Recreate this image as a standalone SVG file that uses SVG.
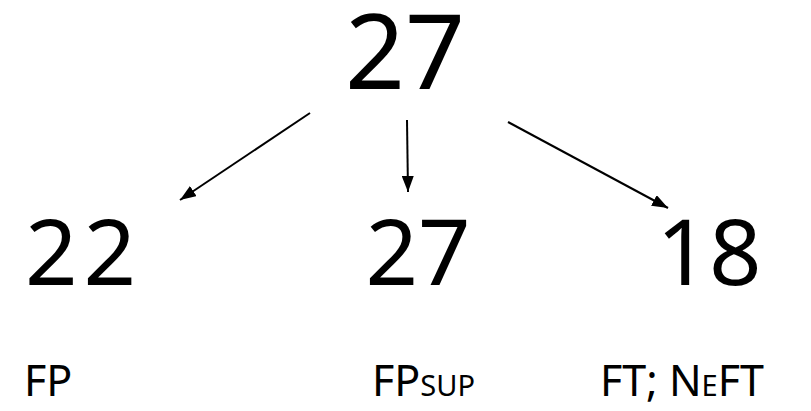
<svg xmlns="http://www.w3.org/2000/svg" width="811" height="411" viewBox="0 0 811 411">
<style>
text{font-family:"Noto Sans","Open Sans",sans-serif;fill:#000}
.big{font-size:105px}
.mid{font-size:92px}
.lab{font-size:43px}
.sc{font-size:29px}
.edge{stroke:#000;stroke-width:2;fill:none;marker-end:url(#ah)}
</style>
<defs>
<marker id="ah" viewBox="0 0 10 10" refX="10" refY="5" markerWidth="16" markerHeight="12" markerUnits="userSpaceOnUse" orient="auto" preserveAspectRatio="none">
<path d="M0,0 L10,5 L0,10 z" fill="#000"/>
</marker>
</defs>
<rect width="811" height="411" fill="#fff"/>
<g id="root"><text class="big" x="405" y="89" text-anchor="middle">27</text></g>
<g id="n22"><text class="mid" x="25" y="285" letter-spacing="6">22</text></g>
<g id="n27"><text class="mid" x="418" y="285" text-anchor="middle">27</text></g>
<g id="n18"><text class="mid" x="709" y="285" text-anchor="middle">18</text></g>
<g id="l1"><text class="lab" x="24" y="396">FP</text></g>
<g id="l2"><text class="lab" x="372" y="396">FP<tspan class="sc">SUP</tspan></text></g>
<g id="l3"><text class="lab" x="600" y="396">FT; N<tspan class="sc">E</tspan>FT</text></g>
<g id="connectors">
<line class="edge" x1="310" y1="113" x2="180" y2="200"/>
<line class="edge" x1="407" y1="120" x2="408" y2="192"/>
<line class="edge" x1="508" y1="122" x2="668" y2="208"/>
</g>
</svg>
